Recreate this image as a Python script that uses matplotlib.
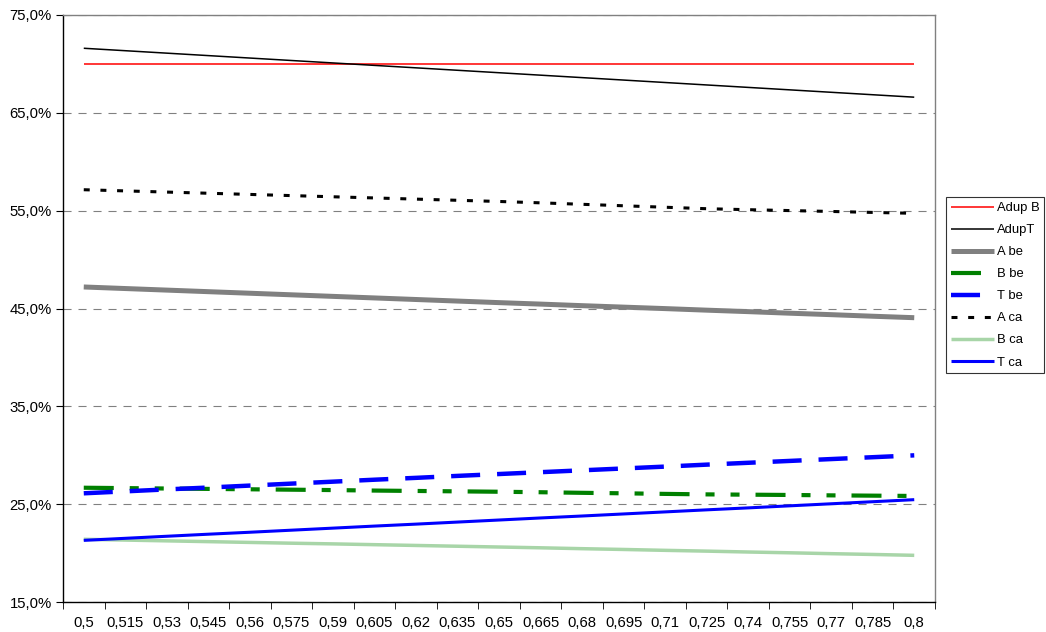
import matplotlib
matplotlib.use("Agg")
import matplotlib.pyplot as plt
from matplotlib.ticker import FixedLocator, FuncFormatter

plt.rcParams['font.family'] = ['Liberation Sans', 'DejaVu Sans']
plt.rcParams['font.size'] = 10.7
plt.rcParams['lines.scale_dashes'] = False

x_labels = ['0,5', '0,515', '0,53', '0,545', '0,56', '0,575', '0,59', '0,605', '0,62',
            '0,635', '0,65', '0,665', '0,68', '0,695', '0,71', '0,725', '0,74', '0,755',
            '0,77', '0,785', '0,8']

# values in percent
adup_b = [70.0] * 21
adup_t = [71.6, 71.35, 71.1, 70.85, 70.6, 70.35, 70.1, 69.85, 69.6, 69.35, 69.1,
          68.85, 68.6, 68.35, 68.1, 67.85, 67.6, 67.35, 67.1, 66.85, 66.6]
a_be = [47.2, 47.04, 46.88, 46.72, 46.56, 46.4, 46.24, 46.08, 45.92, 45.76, 45.6,
        45.45, 45.29, 45.14, 44.99, 44.83, 44.68, 44.52, 44.37, 44.21, 44.06]
b_be = [26.68, 26.64, 26.6, 26.56, 26.52, 26.48, 26.44, 26.39, 26.35, 26.31, 26.27,
        26.22, 26.16, 26.11, 26.05, 26.0, 25.97, 25.94, 25.9, 25.87, 25.84]
t_be = [26.11, 26.31, 26.51, 26.7, 26.9, 27.1, 27.3, 27.5, 27.69, 27.89, 28.08,
        28.27, 28.46, 28.65, 28.84, 29.04, 29.23, 29.42, 29.61, 29.8, 29.99]
a_ca = [57.14, 57.02, 56.9, 56.78, 56.66, 56.54, 56.42, 56.3, 56.18, 56.06, 55.94,
        55.8, 55.65, 55.5, 55.35, 55.2, 55.1, 55.01, 54.92, 54.82, 54.73]
b_ca = [21.41, 21.33, 21.25, 21.17, 21.09, 21.01, 20.94, 20.86, 20.78, 20.7, 20.62,
        20.54, 20.45, 20.37, 20.28, 20.2, 20.11, 20.03, 19.94, 19.86, 19.77]
t_ca = [21.3, 21.51, 21.72, 21.93, 22.13, 22.34, 22.55, 22.76, 22.96, 23.17, 23.38,
        23.59, 23.79, 24.0, 24.21, 24.42, 24.62, 24.83, 25.04, 25.25, 25.46]

series = [
    ('Adup B', adup_b, dict(color='#ff0000', lw=1.1)),
    ('AdupT', adup_t, dict(color='black', lw=1.1)),
    ('A be', a_be, dict(color='#808080', lw=3.6)),
    ('B be', b_be, dict(color='#008000', lw=3.0, dashes=(21.6, 11.5, 6.5, 11.5, 6.5, 11.5))),
    ('T be', t_be, dict(color='#0000ff', lw=3.2, dashes=(20.9, 12.2))),
    ('A ca', a_ca, dict(color='black', lw=2.2, dashes=(4.3, 7.7))),
    ('B ca', b_ca, dict(color='#a8d5a8', lw=2.5)),
    ('T ca', t_ca, dict(color='#0000ff', lw=2.2)),
]

fig = plt.figure(figsize=(10.46, 6.32), dpi=100)
ax = fig.add_axes([63 / 1046, 30 / 632, 872 / 1046, 587 / 632])

xs = list(range(len(x_labels)))
for name, vals, style in series:
    ax.plot(xs, vals, label=name, solid_capstyle='butt', dash_capstyle='butt', **style)

ax.set_xlim(-0.5, len(x_labels) - 0.5)
ax.set_ylim(15, 75)

# category labels in the middle, tick marks on the boundaries
ax.set_xticks(xs)
ax.set_xticklabels(x_labels)
ax.tick_params(axis='x', which='major', length=0, pad=10)
ax.xaxis.set_minor_locator(FixedLocator([i - 0.5 for i in range(len(x_labels) + 1)]))
ax.tick_params(axis='x', which='minor', length=5, direction='out', color='black')

ax.set_yticks([15, 25, 35, 45, 55, 65, 75])
ax.yaxis.set_major_formatter(FuncFormatter(lambda v, p: f'{v:.1f}%'.replace('.', ',')))
ax.tick_params(axis='y', length=5, direction='out', pad=3)

ax.grid(axis='y', color='#808080', lw=0.8, dashes=(5.8, 5.0))
ax.set_axisbelow(True)

ax.spines['left'].set_color('black')
ax.spines['bottom'].set_color('black')
ax.spines['top'].set_color('#808080')
ax.spines['right'].set_color('#808080')
for s in ax.spines.values():
    s.set_linewidth(1.0)

leg = fig.legend(loc='upper left', bbox_to_anchor=(946 / 1046, 1 - 197 / 632),
                 borderaxespad=0, frameon=True, fancybox=False, edgecolor='black',
                 handlelength=3.3, handletextpad=0.2, labelspacing=0.76,
                 borderpad=0.38, fontsize=9.4)
leg.get_frame().set_linewidth(0.8)

fig.savefig('out.png', dpi=100)
